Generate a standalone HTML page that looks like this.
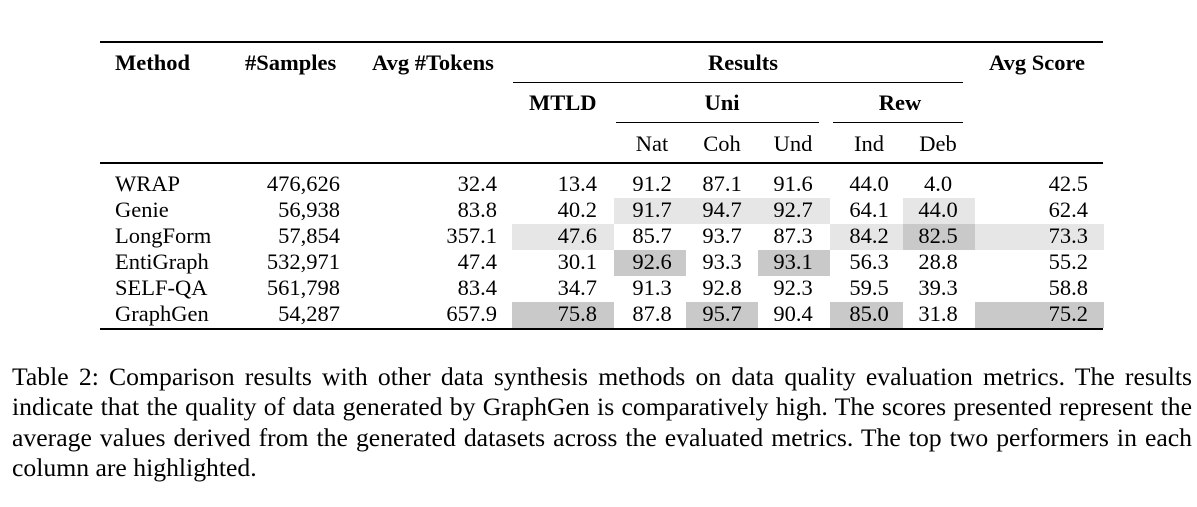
<!DOCTYPE html>
<html><head><meta charset="utf-8"><style>
body{margin:0;width:1197px;height:507px;background:#fff;position:relative;overflow:hidden;font-family:"Liberation Serif","Times New Roman",serif;color:#000}
.t{position:absolute;font-size:22.5px;line-height:26px;white-space:nowrap}
.b{font-weight:bold}
.r{text-align:right}
.c{text-align:center}
.hl{position:absolute;height:26px}
.l1{background:#e6e6e6}.l2{background:#c9c9c9}
.rule{position:absolute;background:#000}
.cl{position:absolute;left:12px;width:1180px;font-size:25.7px;line-height:30px;white-space:nowrap}
.j{text-align:justify;text-align-last:justify}
</style></head><body>
<div class="rule" style="left:100px;top:41px;width:1003px;height:2px"></div>
<div class="rule" style="left:513px;top:82px;width:450px;height:1px"></div>
<div class="rule" style="left:616px;top:122px;width:203px;height:1px"></div>
<div class="rule" style="left:833px;top:122px;width:130px;height:1px"></div>
<div class="rule" style="left:100px;top:162px;width:1003px;height:1.5px"></div>
<div class="rule" style="left:100px;top:328px;width:1003px;height:2px"></div>

<div class="hl l1" style="left:614px;top:198px;width:216px"></div>
<div class="hl l1" style="left:903px;top:198px;width:72px"></div>
<div class="hl l1" style="left:512px;top:224px;width:102px"></div>
<div class="hl l1" style="left:830px;top:224px;width:73px"></div>
<div class="hl l2" style="left:903px;top:224px;width:72px"></div>
<div class="hl l1" style="left:975px;top:224px;width:129px"></div>
<div class="hl l2" style="left:614px;top:250px;width:72px"></div>
<div class="hl l2" style="left:758px;top:250px;width:72px"></div>
<div class="hl l2" style="left:512px;top:302px;width:102px"></div>
<div class="hl l2" style="left:686px;top:302px;width:72px"></div>
<div class="hl l2" style="left:830px;top:302px;width:73px"></div>
<div class="hl l2" style="left:975px;top:302px;width:129px"></div>

<div class="t b" style="left:115px;top:50px">Method</div>
<div class="t b" style="left:245px;top:50px">#Samples</div>
<div class="t b" style="left:372px;top:50px">Avg #Tokens</div>
<div class="t b c" style="left:643px;top:50px;width:200px">Results</div>
<div class="t b" style="left:989px;top:50px">Avg Score</div>
<div class="t b" style="left:529px;top:90px">MTLD</div>
<div class="t b c" style="left:672px;top:90px;width:100px">Uni</div>
<div class="t b c" style="left:850px;top:90px;width:100px">Rew</div>
<div class="t c" style="left:622px;top:131px;width:60px">Nat</div>
<div class="t c" style="left:692px;top:131px;width:60px">Coh</div>
<div class="t c" style="left:763px;top:131px;width:60px">Und</div>
<div class="t c" style="left:839px;top:131px;width:60px">Ind</div>
<div class="t c" style="left:908px;top:131px;width:60px">Deb</div>

<div id="rows"></div>
<script>
var d=[["WRAP","476,626","32.4","13.4","91.2","87.1","91.6","44.0","4.0","42.5"],
["Genie","56,938","83.8","40.2","91.7","94.7","92.7","64.1","44.0","62.4"],
["LongForm","57,854","357.1","47.6","85.7","93.7","87.3","84.2","82.5","73.3"],
["EntiGraph","532,971","47.4","30.1","92.6","93.3","93.1","56.3","28.8","55.2"],
["SELF-QA","561,798","83.4","34.7","91.3","92.8","92.3","59.5","39.3","58.8"],
["GraphGen","54,287","657.9","75.8","87.8","95.7","90.4","85.0","31.8","75.2"]];
var h="";
var cen=[652,722,793,869,938];
d.forEach(function(r,i){var y=171+i*26;
h+='<div class="t" style="left:115px;top:'+y+'px">'+r[0]+'</div>';
h+='<div class="t r" style="left:240px;top:'+y+'px;width:100px">'+r[1]+'</div>';
h+='<div class="t r" style="left:397px;top:'+y+'px;width:100px">'+r[2]+'</div>';
h+='<div class="t r" style="left:497px;top:'+y+'px;width:100px">'+r[3]+'</div>';
for(var k=0;k<5;k++)h+='<div class="t c" style="left:'+(cen[k]-40)+'px;top:'+y+'px;width:80px">'+r[4+k]+'</div>';
h+='<div class="t r" style="left:988px;top:'+y+'px;width:100px">'+r[9]+'</div>';});
document.getElementById("rows").innerHTML=h;
</script>
<div class="cl j" style="top:362px">Table 2: Comparison results with other data synthesis methods on data quality evaluation metrics. The results</div>
<div class="cl j" style="top:392px">indicate that the quality of data generated by GraphGen is comparatively high. The scores presented represent the</div>
<div class="cl j" style="top:423px">average values derived from the generated datasets across the evaluated metrics. The top two performers in each</div>
<div class="cl" style="top:453px">column are highlighted.</div>
</body></html>
